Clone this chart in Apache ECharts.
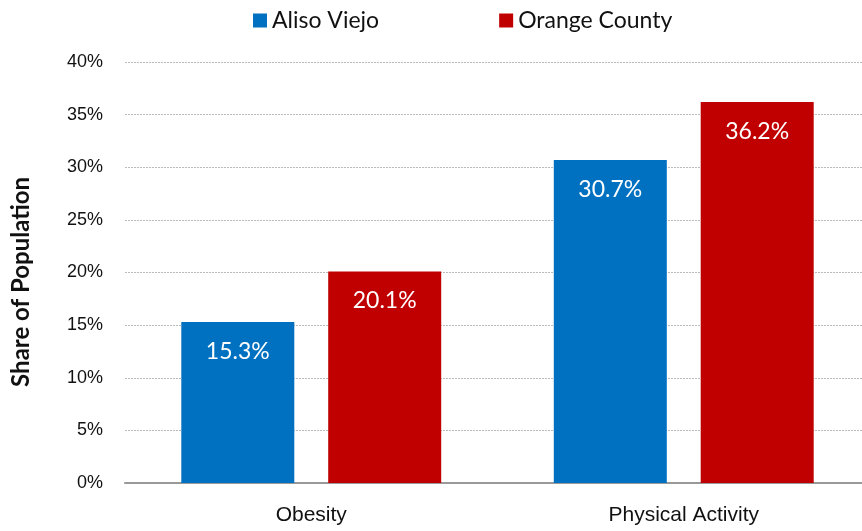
<!DOCTYPE html>
<html><head><meta charset="utf-8">
<script src="https://cdn.jsdelivr.net/npm/echarts@6/dist/echarts.min.js"></script>
<style>html,body{margin:0;padding:0;background:#fff;overflow:hidden}#c{width:870px;height:531px}</style>
</head><body><div id="c"></div>
<script>
const categories = ['Obesity', 'Physical Activity'];
const seriesNames = ['Aliso Viejo', 'Orange County'];
const alisoViejo = [15.3, 30.7];
const orangeCounty = [20.1, 36.2];
const colors = ['#0070C0', '#C00000'];
const yTicks = {min: 0, max: 40, interval: 5};
const yTitle = 'Share of Population';

const chart = echarts.init(document.getElementById('c'));
const labelOpt = {show: true, position: 'insideTop', distance: 18, color: '#fff', fontFamily: 'Lato', fontSize: 23, formatter: p => p.value.toFixed(1) + '%'};
chart.setOption({
  animation: false,
  legend: {top: 4, left: 248, itemWidth: 14, itemHeight: 14, itemGap: 120, icon: 'rect',
    textStyle: {fontFamily: 'Lato', fontSize: 23, color: '#111'}, data: seriesNames},
  grid: {left: 125, right: 0, top: 62, bottom: 48},
  xAxis: {type: 'category', data: categories,
    axisLine: {lineStyle: {color: '#999', width: 2}}, axisTick: {show: false},
    axisLabel: {fontFamily: 'Liberation Sans', fontSize: 21, color: '#111', margin: 22}},
  yAxis: {type: 'value', min: yTicks.min, max: yTicks.max, interval: yTicks.interval,
    axisLabel: {formatter: '{value}%', fontFamily: 'Liberation Sans', fontSize: 18, color: '#111', margin: 22},
    axisLine: {show: false}, axisTick: {show: false},
    splitLine: {lineStyle: {color: '#bbb', type: [2, 1], width: 1}}},
  graphic: [{type: 'text', left: 9, top: 177, rotation: Math.PI / 2,
    style: {text: yTitle, fontFamily: 'Lato', fontWeight: 'bold', fontSize: 24, fill: '#111'}}],
  series: [
    {name: seriesNames[0], type: 'bar', data: alisoViejo, barWidth: 113, barGap: '30%', itemStyle: {color: colors[0]}, label: labelOpt},
    {name: seriesNames[1], type: 'bar', data: orangeCounty, barWidth: 113, barGap: '30%', itemStyle: {color: colors[1]}, label: labelOpt}
  ]
});
</script></body></html>
